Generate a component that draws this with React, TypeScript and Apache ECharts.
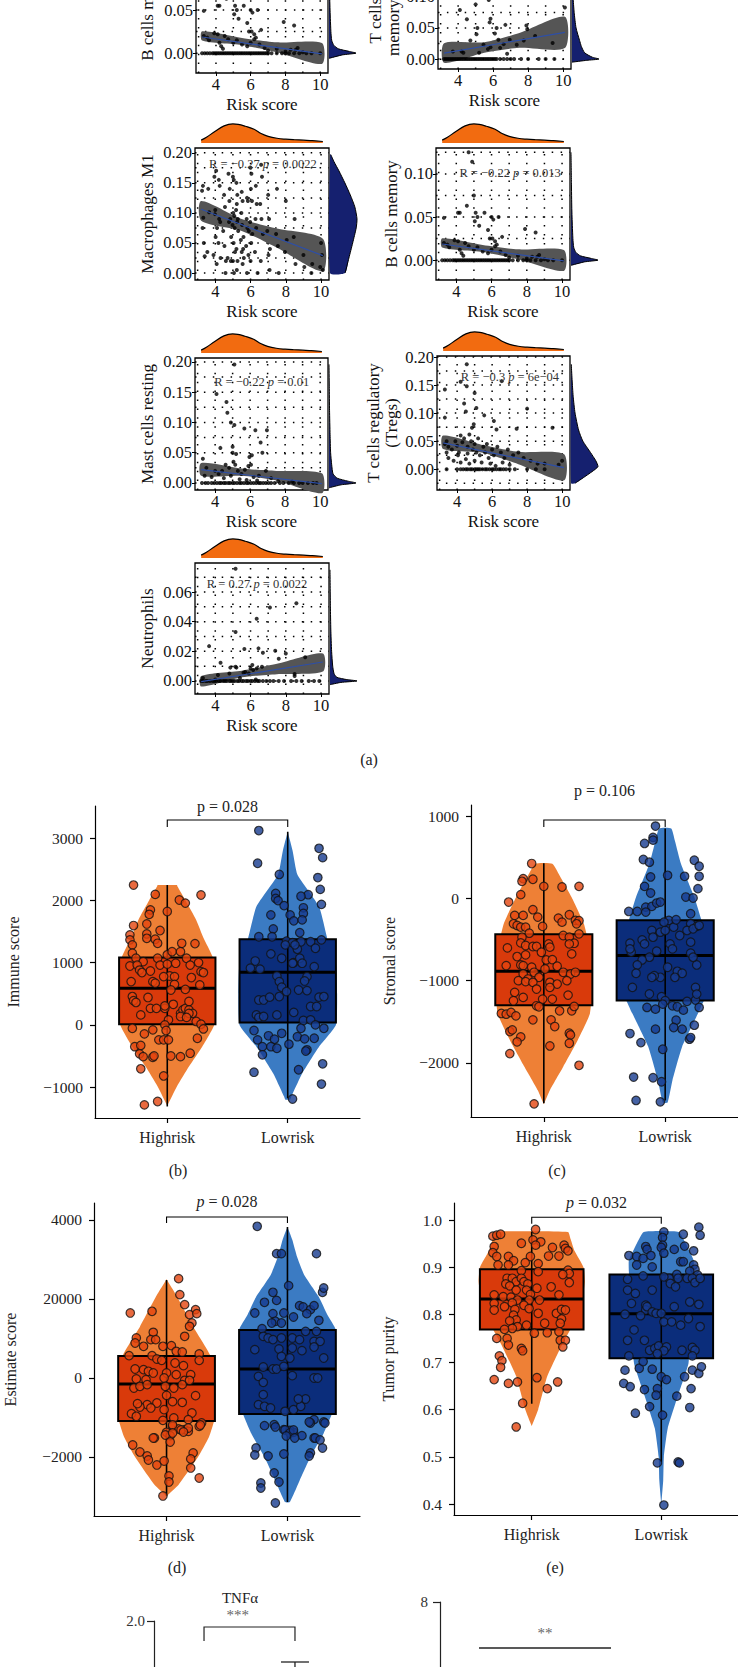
import React, { useEffect, useRef } from "react";
import * as echarts from "echarts";

const FONT = "'Liberation Serif', 'Times New Roman', serif";

// ---------------- (a) common marginal density of risk score ----------------
const riskDensX = [3.2, 3.5, 4.0, 4.5, 5.0, 5.3, 5.7, 6.2, 6.6, 7.0, 7.5, 8.0, 8.5, 9.0, 9.5, 10.1];
const riskDensH = [0.15, 0.3, 0.62, 0.9, 1.0, 0.98, 0.88, 0.72, 0.5, 0.35, 0.25, 0.2, 0.17, 0.15, 0.12, 0.08];
const riskTicks = [4, 6, 8, 10];
const riskGridX = [3, 4, 5, 6, 7, 8, 9, 10];
const fitX = [3.2, 10.1];
const bandX = [3.2, 5.5, 7.5, 10.1];

// B cells memory
const bmemPoints = [
  [4.7, 0.125], [4.9, 0.114], [4.6, 0.063], [3.3, 0.049], [4.1, 0.055], [4.2, 0.055], [5.0, 0.075], [5.1, 0.055], [5.2, 0.05], [5.05, 0.045], [5.3, 0.04], [5.6, 0.055], [5.8, 0.035], [6.0, 0.05], [6.1, 0.047], [6.4, 0.05], [6.05, 0.025], [6.2, 0.022], [5.9, 0.025], [6.6, 0.027], [6.3, 0.018], [7.9, 0.036], [8.5, 0.032],
  [3.3, 0.02], [3.5, 0.018], [3.6, 0.015], [3.9, 0.023], [4.1, 0.022], [4.2, 0.012], [4.3, 0.008], [4.5, 0.02], [4.7, 0.016], [4.4, 0.005], [5.0, 0.012], [5.2, 0.015], [5.5, 0.01], [5.8, 0.008], [6.0, 0.012], [6.2, 0.016], [6.5, 0.01], [6.8, 0.006], [7.0, 0.003], [7.5, 0.005], [8.0, 0.002], [8.3, 0.004], [8.6, 0.004], [8.7, 0.006], [9.0, 0.001],
  [3.2, 0], [3.35, 0], [3.5, 0], [3.65, 0], [3.8, 0], [3.9, 0], [4.0, 0], [4.1, 0], [4.2, 0], [4.3, 0], [4.4, 0], [4.5, 0], [4.6, 0], [4.7, 0], [4.8, 0], [4.9, 0], [5.0, 0], [5.1, 0], [5.2, 0], [5.3, 0], [5.4, 0], [5.5, 0], [5.6, 0], [5.7, 0], [5.8, 0], [5.9, 0], [6.0, 0], [6.1, 0], [6.2, 0], [6.3, 0], [6.4, 0], [6.5, 0], [6.6, 0], [6.7, 0], [6.8, 0], [6.9, 0], [7.0, 0], [7.2, 0], [7.5, 0], [7.8, 0], [8.0, 0], [8.2, 0], [8.5, 0], [8.8, 0], [9.2, 0], [9.5, 0], [10.0, 0],
];
const bmemFitY = [0.0187, -0.0008];
const bmemBandLo = [0.0148, 0.0095, 0.001, -0.0125];
const bmemBandHi = [0.0253, 0.0175, 0.0125, 0.0117];
const bmemDensY = [-0.006, -0.002, 0, 0.002, 0.005, 0.009, 0.015, 0.025, 0.04, 0.06, 0.09, 0.125];
const bmemDensW = [0, 0.5, 1.0, 0.75, 0.35, 0.18, 0.1, 0.07, 0.05, 0.03, 0.015, 0.0];

// T cells CD4 memory resting
const tcd4Points = [
  [4.1, 0.079], [5.0, 0.088], [5.75, 0.095], [4.5, 0.064], [5.8, 0.059], [5.85, 0.065], [5.05, 0.04], [5.1, 0.05], [6.2, 0.05], [6.7, 0.055], [10.1, 0.083], [7.9, 0.054], [7.95, 0.048], [8.4, 0.037], [9.4, 0.026], [6.1, 0.041], [6.3, 0.031], [5.45, 0.023], [4.7, 0.03], [3.7, 0.012], [4.2, 0.012], [4.3, 0.01], [5.2, 0.01], [5.7, 0.016], [5.85, 0.019], [6.4, 0.018], [6.6, 0.024], [6.95, 0.031], [7.35, 0.023], [7.75, 0.03], [6.8, 0.0085], [4.4, 0.12], [5.4, 0.15], [6.0, 0.11], [3.8, 0.18], [7.0, 0.13],
  [3.2, 0], [3.3, 0], [3.4, 0], [3.5, 0], [3.6, 0], [3.7, 0], [3.8, 0], [3.9, 0], [4.0, 0], [4.1, 0], [4.2, 0], [4.3, 0], [4.4, 0], [4.5, 0], [4.6, 0], [4.7, 0], [4.8, 0], [4.9, 0], [5.0, 0], [5.1, 0], [5.2, 0], [5.3, 0], [5.4, 0], [5.5, 0], [5.6, 0], [5.7, 0], [5.8, 0], [5.9, 0], [6.0, 0], [6.1, 0], [6.2, 0], [6.4, 0], [6.6, 0], [6.8, 0], [7.0, 0], [7.2, 0], [7.6, 0], [8.0, 0], [8.6, 0], [9.0, 0], [9.5, 0],
];
const tcd4FitY = [0.0096, 0.043];
const tcd4BandLo = [-0.006, 0.01, 0.018, 0.0176];
const tcd4BandHi = [0.0255, 0.027, 0.042, 0.068];
const tcd4DensY = [-0.005, -0.002, 0, 0.003, 0.01, 0.02, 0.03, 0.05, 0.075, 0.1, 0.15];
const tcd4DensW = [0, 0.55, 1.0, 0.75, 0.47, 0.35, 0.28, 0.15, 0.08, 0.04, 0.01];

// Macrophages M1
const m1Points = [
  [3.25, 0.137], [3.3, 0.145], [3.28, 0.075], [3.35, 0.05], [3.4, 0.028], [3.32, 0.092], [3.6, 0.14], [3.65, 0.101], [3.55, 0.035], [3.95, 0.16], [4.05, 0.17], [4.0, 0.105], [3.98, 0.098], [4.1, 0.075], [4.02, 0.06], [3.9, 0.03], [4.08, 0.015],
  [4.2, 0.155], [4.25, 0.145], [4.22, 0.09], [4.28, 0.085], [4.18, 0.05], [4.3, 0.025], [4.5, 0.13], [4.55, 0.11], [4.45, 0.07], [4.52, 0.045], [4.6, 0.02], [4.58, 0.0], [4.75, 0.165], [4.82, 0.14], [4.8, 0.12], [4.85, 0.09], [4.78, 0.085], [4.9, 0.06], [4.7, 0.025], [4.88, 0.02],
  [5.0, 0.16], [5.05, 0.155], [5.02, 0.1], [5.08, 0.095], [4.98, 0.08], [5.1, 0.075], [5.04, 0.05], [5.12, 0.035], [5.0, 0.02], [5.06, 0.0], [5.2, 0.15], [5.25, 0.13], [5.22, 0.115], [5.18, 0.105], [5.28, 0.09], [5.24, 0.085], [5.3, 0.07], [5.2, 0.04], [5.26, 0.02], [5.22, 0.005],
  [5.5, 0.135], [5.55, 0.12], [5.48, 0.1], [5.52, 0.08], [5.6, 0.06], [5.45, 0.055], [5.58, 0.04], [5.5, 0.035], [5.62, 0.025], [5.55, 0.015], [5.8, 0.125], [5.85, 0.12], [5.78, 0.09], [5.82, 0.075], [5.9, 0.07], [5.75, 0.045], [5.88, 0.03], [5.8, 0.0],
  [6.0, 0.175], [6.05, 0.165], [6.02, 0.14], [6.08, 0.12], [5.98, 0.085], [6.1, 0.065], [6.04, 0.05], [6.0, 0.02], [6.3, 0.145], [6.35, 0.115], [6.28, 0.09], [6.32, 0.075], [6.25, 0.035], [6.4, 0.0], [6.6, 0.18], [6.65, 0.16], [6.55, 0.115], [6.62, 0.09], [6.7, 0.065], [6.58, 0.02],
  [7.0, 0.13], [7.05, 0.09], [6.95, 0.07], [7.1, 0.04], [7.02, 0.03], [7.08, 0.005], [7.5, 0.14], [7.45, 0.065], [7.55, 0.045], [7.6, 0.0], [8.0, 0.12], [8.05, 0.055], [7.95, 0.035], [8.5, 0.09], [8.45, 0.06], [8.55, 0.015], [9.0, 0.03], [9.05, 0.01], [9.5, 0.015], [9.45, 0.0], [10.0, 0.05], [10.05, 0.03], [9.95, 0.01], [10.1, 0.005],
];
const m1FitY = [0.106, 0.029];
const m1BandLo = [0.087, 0.07, 0.042, 0.003];
const m1BandHi = [0.12, 0.09, 0.074, 0.057];
const m1DensY = [0, 0.025, 0.05, 0.075, 0.09, 0.11, 0.13, 0.15, 0.17, 0.185, 0.197];
const m1DensW = [0.56, 0.7, 0.84, 0.97, 1.0, 0.92, 0.75, 0.55, 0.33, 0.15, 0.03];

// Mast cells resting
const mastPoints = [
  [5.1, 0.196], [4.08, 0.147], [4.65, 0.134], [4.7, 0.116], [4.9, 0.1], [5.1, 0.096], [5.67, 0.09], [6.3, 0.087], [6.96, 0.087], [6.6, 0.067], [4.3, 0.058], [5.0, 0.06], [5.2, 0.048], [5.96, 0.043], [6.1, 0.046], [5.0, 0.05], [3.3, 0.04],
  [3.5, 0.025], [4.0, 0.02], [4.2, 0.015], [4.4, 0.02], [4.6, 0.03], [4.8, 0.025], [5.05, 0.035], [5.15, 0.03], [5.3, 0.02], [5.5, 0.015], [5.7, 0.022], [5.9, 0.028], [6.05, 0.03], [6.2, 0.01], [6.5, 0.012], [6.7, 0.05], [6.9, 0.02], [7.2, 0.008], [3.4, 0.012], [3.8, 0.01], [4.5, 0.008], [4.9, 0.012], [5.4, 0.006], [5.8, 0.005], [6.4, 0.004], [7.6, 0.003], [8.4, 0.002],
  [3.25, 0], [3.45, 0], [3.6, 0], [3.8, 0], [3.95, 0], [4.1, 0], [4.25, 0], [4.35, 0], [4.5, 0], [4.6, 0], [4.75, 0], [4.85, 0], [5.0, 0], [5.1, 0], [5.25, 0], [5.4, 0], [5.5, 0], [5.65, 0], [5.8, 0], [5.9, 0], [6.05, 0], [6.2, 0], [6.35, 0], [6.5, 0], [6.6, 0], [6.75, 0], [6.9, 0], [7.05, 0], [7.2, 0], [7.4, 0], [7.7, 0], [7.9, 0], [8.2, 0], [8.5, 0], [8.8, 0], [9.0, 0], [9.3, 0], [9.6, 0], [9.8, 0],
];
const mastFitY = [0.022, -0.001];
const mastBandLo = [0.012, 0.012, 0.004, -0.017];
const mastBandHi = [0.033, 0.024, 0.02, 0.016];
const mastDensY = [-0.008, -0.003, 0, 0.003, 0.008, 0.015, 0.03, 0.05, 0.08, 0.12, 0.16, 0.196];
const mastDensW = [0, 0.45, 1.0, 0.7, 0.3, 0.15, 0.1, 0.06, 0.04, 0.02, 0.01, 0.0];

// T cells regulatory (Tregs)
const tregPoints = [
  [3.3, 0.142], [3.3, 0.092], [4.55, 0.187], [4.2, 0.156], [4.55, 0.148], [4.4, 0.117], [4.5, 0.103], [5.0, 0.136], [5.1, 0.109], [5.55, 0.096], [6.1, 0.086], [6.25, 0.071], [6.55, 0.157], [7.4, 0.072], [8.0, 0.108], [9.45, 0.074], [4.95, 0.08], [4.85, 0.074], [4.7, 0.062], [4.2, 0.06],
  [3.3, 0.045], [3.4, 0.05], [3.5, 0.04], [3.7, 0.035], [3.9, 0.05], [4.0, 0.042], [4.1, 0.03], [4.3, 0.048], [4.4, 0.055], [4.6, 0.04], [4.8, 0.05], [4.9, 0.035], [5.0, 0.045], [5.1, 0.03], [5.2, 0.055], [5.3, 0.025], [5.5, 0.04], [5.6, 0.03], [5.7, 0.045], [5.8, 0.02], [6.0, 0.035], [6.1, 0.025], [6.3, 0.04], [6.5, 0.03], [6.7, 0.02], [6.9, 0.035], [7.2, 0.025], [7.5, 0.03], [7.8, 0.02], [8.2, 0.015], [8.6, 0.01], [9.0, 0.01], [9.8, 0.008], [10.0, 0.015],
  [3.5, 0.02], [3.8, 0.015], [4.2, 0.012], [4.5, 0.018], [4.7, 0.01], [5.0, 0.015], [5.4, 0.012], [5.9, 0.01], [6.2, 0.006], [6.6, 0.012], [7.0, 0.008], [3.4, 0.03], [4.05, 0.025], [4.6, 0.028],
  [3.4, 0], [4.0, 0], [4.2, 0], [4.35, 0], [4.5, 0], [4.6, 0], [4.75, 0], [4.85, 0], [5.0, 0], [5.1, 0], [5.2, 0], [5.3, 0], [5.45, 0], [5.6, 0], [5.7, 0], [5.85, 0], [6.0, 0], [6.1, 0], [6.25, 0], [6.4, 0], [6.5, 0], [6.65, 0], [6.8, 0], [7.0, 0], [7.3, 0], [8.0, 0], [8.5, 0], [9.0, 0],
];
const tregFitY = [0.047, 0.003];
const tregBandLo = [0.036, 0.029, 0.009, -0.02];
const tregBandHi = [0.06, 0.043, 0.031, 0.027];
const tregDensY = [-0.025, -0.012, 0, 0.005, 0.015, 0.03, 0.05, 0.07, 0.1, 0.13, 0.16, 0.187];
const tregDensW = [0.15, 0.55, 0.9, 1.0, 0.92, 0.72, 0.44, 0.28, 0.15, 0.08, 0.04, 0.01];

// Neutrophils
const neutPoints = [
  [5.15, 0.0757], [3.65, 0.0235], [5.15, 0.033], [6.35, 0.042], [7.1, 0.0496], [8.6, 0.0525], [5.65, 0.0215], [6.45, 0.022], [6.7, 0.019], [7.4, 0.0204], [7.6, 0.015], [8.0, 0.0186], [9.1, 0.016], [8.5, 0.0047], [8.5, 0.0034], [4.3, 0.0123], [4.85, 0.009], [5.15, 0.0096], [5.2, 0.009], [6.0, 0.0085], [6.1, 0.0107], [6.15, 0.0074], [6.35, 0.0085], [6.65, 0.0096], [4.15, 0.004], [4.8, 0.005], [5.6, 0.0056], [5.7, 0.006], [5.9, 0.005], [3.3, 0.002], [4.0, 0.001], [5.4, 0.002], [6.3, 0.001],
  [3.2, 0], [3.3, 0], [3.45, 0], [3.55, 0], [3.7, 0], [3.85, 0], [3.95, 0], [4.05, 0], [4.2, 0], [4.3, 0], [4.45, 0], [4.55, 0], [4.65, 0], [4.8, 0], [4.9, 0], [5.0, 0], [5.1, 0], [5.25, 0], [5.35, 0], [5.5, 0], [5.6, 0], [5.75, 0], [5.85, 0], [6.0, 0], [6.1, 0], [6.25, 0], [6.4, 0], [6.5, 0], [6.7, 0], [6.9, 0], [7.1, 0], [7.3, 0], [7.6, 0], [7.9, 0], [8.3, 0], [8.6, 0], [8.9, 0], [9.3, 0], [9.6, 0], [9.9, 0],
];
const neutFitY = [-0.0004, 0.0128];
const neutBandLo = [-0.0038, 0.0025, 0.0046, 0.0063];
const neutBandHi = [0.0034, 0.0069, 0.0116, 0.0186];
const neutDensY = [-0.0025, -0.001, 0, 0.001, 0.0025, 0.005, 0.01, 0.02, 0.035, 0.05, 0.075];
const neutDensW = [0, 0.4, 1.0, 0.6, 0.25, 0.15, 0.1, 0.06, 0.03, 0.015, 0];

const scatterPanels = [
  { key: "p0", label: "B cells memory", yMin: -0.023, yMax: 0.13, yTicks: [0, 0.05, 0.1], yGrid: [0, 0.025, 0.05, 0.075, 0.1, 0.125], points: bmemPoints, fitY: bmemFitY, bandLo: bmemBandLo, bandHi: bmemBandHi, densY: bmemDensY, densW: bmemDensW, stat: null as any },
  { key: "p1", label: "T cells CD4\nmemory resting", yMin: -0.016, yMax: 0.198, yTicks: [0, 0.05, 0.1, 0.15], yGrid: [0, 0.025, 0.05, 0.075, 0.1, 0.125, 0.15, 0.175], points: tcd4Points, fitY: tcd4FitY, bandLo: tcd4BandLo, bandHi: tcd4BandHi, densY: tcd4DensY, densW: tcd4DensW, stat: null as any },
  { key: "p2", label: "Macrophages M1", yMin: -0.0116, yMax: 0.208, yTicks: [0, 0.05, 0.1, 0.15, 0.2], yGrid: [0, 0.025, 0.05, 0.075, 0.1, 0.125, 0.15, 0.175, 0.2], points: m1Points, fitY: m1FitY, bandLo: m1BandLo, bandHi: m1BandHi, densY: m1DensY, densW: m1DensW, stat: { r: "−0.27", p: "0.0022", pos: [6.7, 0.182] } },
  { key: "p3", label: "B cells memory", yMin: -0.023, yMax: 0.13, yTicks: [0, 0.05, 0.1], yGrid: [0, 0.025, 0.05, 0.075, 0.1, 0.125], points: bmemPoints, fitY: bmemFitY, bandLo: bmemBandLo, bandHi: bmemBandHi, densY: bmemDensY, densW: bmemDensW, stat: { r: "−0.22", p: "0.013", pos: [7.05, 0.101] } },
  { key: "p4", label: "Mast cells resting", yMin: -0.0116, yMax: 0.2066, yTicks: [0, 0.05, 0.1, 0.15, 0.2], yGrid: [0, 0.025, 0.05, 0.075, 0.1, 0.125, 0.15, 0.175, 0.2], points: mastPoints, fitY: mastFitY, bandLo: mastBandLo, bandHi: mastBandHi, densY: mastDensY, densW: mastDensW, stat: { r: "−0.22", p: "0.01", pos: [6.66, 0.167] } },
  { key: "p5", label: "T cells regulatory\n(Tregs)", yMin: -0.037, yMax: 0.2018, yTicks: [0, 0.05, 0.1, 0.15, 0.2], yGrid: [-0.025, 0, 0.025, 0.05, 0.075, 0.1, 0.125, 0.15, 0.175, 0.2], points: tregPoints, fitY: tregFitY, bandLo: tregBandLo, bandHi: tregBandHi, densY: tregDensY, densW: tregDensW, stat: { r: "−0.3", p: "6e−04", pos: [7.02, 0.165] } },
  { key: "p6", label: "Neutrophils", yMin: -0.0088, yMax: 0.0796, yTicks: [0, 0.02, 0.04, 0.06], yGrid: [0, 0.01, 0.02, 0.03, 0.04, 0.05, 0.06, 0.07], points: neutPoints, fitY: neutFitY, bandLo: neutBandLo, bandHi: neutBandHi, densY: neutDensY, densW: neutDensW, stat: { r: "0.27", p: "0.0022", pos: [6.37, 0.0654] } },
];

const scatterLayout: Record<string, any> = {
  p0: { left: 196, top: -59, width: 132, height: 132, nameGap: 40, topDens: false },
  p1: { left: 438, top: -64, width: 133, height: 133, nameGap: 33, topDens: false },
  p2: { left: 195, top: 148, width: 134, height: 132, nameGap: 39, topDens: true },
  p3: { left: 436, top: 148, width: 134, height: 132, nameGap: 35, topDens: true },
  p4: { left: 195, top: 358, width: 133, height: 132, nameGap: 39, topDens: true },
  p5: { left: 437, top: 356, width: 133, height: 134, nameGap: 37, topDens: true },
  p6: { left: 195, top: 563, width: 134, height: 131, nameGap: 39, topDens: true },
};

// ---------------- (b)-(e) violin + box plots ----------------
const groupNames = ["Highrisk", "Lowrisk"];

const immuneHighPts = [
  [-0.28, 2245], [-0.1, 2095], [0.1, 2005], [0.15, 1955], [0.28, 2085], [-0.14, 1845], [-0.15, 1775], [0, 1820], [-0.28, 1595], [-0.17, 1620], [-0.06, 1515], [-0.31, 1445], [-0.31, 1365], [-0.29, 1285], [-0.17, 1460], [-0.17, 1390], [-0.1, 1375], [-0.08, 1310], [0.12, 1310], [0.23, 1305],
  [-0.29, 1150], [-0.26, 1070], [-0.2, 1015], [-0.08, 1070], [0, 1125], [0.04, 1175], [0.11, 1175], [0.16, 1070], [-0.31, 945], [-0.25, 960], [-0.23, 880], [-0.21, 840], [-0.14, 865], [-0.06, 960], [0, 975], [0.07, 990], [0.19, 960], [0.26, 1000], [0.28, 855], [0.3, 840],
  [0.2, 760], [0.02, 785], [0.06, 775], [-0.03, 775], [-0.3, 695], [-0.12, 695], [-0.1, 670], [0.06, 650], [0.03, 560], [0.27, 640], [0.15, 570], [-0.29, 455], [-0.28, 390], [-0.16, 440], [-0.26, 360], [-0.14, 265], [-0.09, 265], [-0.02, 265], [-0.02, 305], [0.05, 330],
  [0.11, 185], [0.13, 240], [0.15, 265], [0.18, 375], [0.18, 240], [0.21, 185], [0.18, 185], [-0.22, 160], [0.11, 135], [0.16, 120], [0.01, 80], [0.24, 55], [0.28, 10], [-0.02, 0], [-0.29, -55], [0.3, -65], [-0.12, -80], [-0.19, -145], [-0.01, -90], [0.25, -215],
  [-0.07, -240], [-0.03, -240], [0.01, -240], [-0.27, -350], [-0.22, -330], [-0.23, -465], [-0.2, -510], [-0.12, -520], [-0.11, -500], [0.03, -500], [0.11, -510], [0.19, -455], [-0.22, -705], [-0.03, -820], [-0.19, -1285], [-0.08, -1230],
];
const immuneLowPts = [
  [-0.24, 3120], [-0.25, 2595], [0.26, 2835], [0.29, 2685], [-0.07, 2415], [0.25, 2365], [0.27, 2175], [0.28, 1935], [-0.1, 2110], [-0.1, 2030], [-0.08, 1995], [-0.03, 1915], [0.17, 2090], [0.11, 2065], [0.13, 1880], [-0.14, 1765], [0.02, 1765], [0.05, 1670], [0.13, 1790], [0.12, 1685],
  [-0.12, 1540], [0.1, 1480], [-0.24, 1415], [-0.13, 1415], [-0.01, 1345], [0.04, 1320], [0.11, 1335], [0.19, 1335], [0.28, 1365], [0.08, 1215], [0.23, 1230], [-0.14, 1140], [-0.02, 1285], [0.06, 1285], [-0.27, 1025], [-0.05, 1070], [0.05, 1000], [0.1, 1070], [0.12, 990], [-0.31, 910],
  [-0.23, 895], [0.04, 990], [0.22, 935], [-0.09, 785], [-0.07, 695], [-0.05, 605], [-0.01, 535], [0.16, 775], [0.14, 705], [0.09, 560], [0.16, 550], [0.26, 445], [0.3, 455], [0.19, 295], [0.24, 295], [-0.24, 400], [-0.2, 400], [-0.15, 445], [-0.07, 455], [0.05, 200],
  [-0.09, 160], [-0.26, 160], [-0.24, 120], [-0.2, 135], [0.13, 70], [0.19, 80], [0.23, 0], [-0.28, -90], [-0.25, -240], [-0.16, -175], [-0.11, -230], [-0.05, -135], [0.01, -310], [0.11, -55], [0.08, -190], [0.14, -225], [0.3, -55], [-0.21, -350], [-0.14, -350], [-0.09, -375],
  [0.16, -400], [0.22, -215], [-0.21, -480], [0.15, -420], [0.09, -720], [-0.28, -760], [0.29, -625], [0.28, -950], [0.04, -1190],
];
const immuneHighViolin = [[-1300, 0], [-990, 0.08], [-670, 0.18], [-350, 0.29], [0, 0.39], [400, 0.4], [800, 0.4], [1100, 0.375], [1400, 0.3], [1685, 0.24], [2000, 0.15], [2220, 0.085], [2245, 0.08]];
const immuneLowViolin = [[-1200, 0.02], [-1150, 0.03], [-780, 0.12], [-350, 0.26], [0, 0.4], [500, 0.41], [1000, 0.4], [1380, 0.33], [1900, 0.26], [2415, 0.08], [2800, 0.04], [3100, 0.0]];
const immuneHighBox = [-1310, 11, 588, 1080, 2245];
const immuneLowBox = [-1176, 37, 845, 1374, 3100];

const stromalHighPts = [
  [-0.1, 423], [-0.17, 240], [-0.09, 232], [-0.18, 207], [0, 146], [0.15, 138], [0.29, 146], [-0.29, -45], [-0.19, 45], [-0.09, -138], [-0.24, -207], [-0.17, -207], [-0.05, -228], [0.12, -240], [0.15, -289], [0.21, -199], [0.26, -268], [0.29, -272], [0.27, -309], [-0.25, -309],
  [-0.22, -329], [-0.19, -350], [-0.15, -350], [-0.01, -341], [-0.12, -423], [0.29, -431], [-0.18, -472], [0.16, -451], [0.21, -472], [0.25, -545], [0.21, -553], [-0.19, -541], [-0.15, -573], [-0.09, -585], [-0.06, -585], [0.04, -553], [0.05, -593], [-0.02, -655], [-0.3, -602], [0.23, -675],
  [-0.22, -707], [-0.15, -687], [0.02, -748], [0.07, -744], [-0.31, -817], [-0.19, -809], [-0.17, -817], [-0.1, -837], [0.01, -858], [0.11, -825], [0.16, -898], [0.22, -919], [0.26, -898], [-0.08, -898], [-0.17, -919], [-0.04, -959], [-0.13, -980], [-0.21, -1000], [-0.15, -1012], [-0.09, -1020],
  [0.05, -1020], [0.11, -1041], [0.19, -1000], [-0.06, -1102], [0.05, -1081], [-0.24, -1142], [-0.17, -1203], [0.2, -1175], [-0.25, -1244], [-0.01, -1224], [0.07, -1224], [-0.06, -1305], [-0.04, -1317], [0.13, -1366], [0.23, -1366], [0.25, -1313], [-0.35, -1398], [-0.31, -1407], [-0.27, -1386], [-0.23, -1427],
  [-0.09, -1476], [0.06, -1476], [0.09, -1557], [-0.28, -1618], [-0.26, -1598], [-0.19, -1683], [-0.22, -1744], [0.21, -1638], [0.22, -1659], [0.21, -1760], [0.05, -1793], [-0.28, -1886], [0.29, -2028], [-0.08, -2496],
];
const stromalLowPts = [
  [-0.08, 878], [-0.17, 667], [-0.1, 740], [-0.1, 707], [-0.18, 472], [-0.13, 439], [0.24, 463], [0.28, 390], [0.02, 280], [0.16, 268], [0.28, 268], [-0.12, 260], [-0.17, 146], [-0.12, 65], [0.27, 118], [0.17, 16], [0.23, 4], [-0.3, -159], [-0.23, -159], [-0.16, -106],
  [-0.11, -98], [-0.07, -57], [-0.04, -45], [0.21, -187], [0.21, -309], [0.26, -341], [-0.29, -545], [-0.28, -654], [-0.19, -504], [-0.17, -553], [-0.11, -390], [-0.1, -472], [-0.13, -715], [-0.07, -642], [-0.04, -411], [0, -390], [0.03, -268], [-0.01, -289], [0.07, -350], [0.09, -260],
  [0.12, -451], [0.04, -553], [0.06, -614], [0.18, -390], [0.23, -370], [0.28, -329], [0.21, -532], [0.21, -667], [0.26, -809], [0.23, -715], [0.1, -886], [0.14, -910], [0.08, -959], [0.02, -837], [-0.04, -959], [-0.09, -939], [-0.11, -959], [-0.19, -748], [-0.23, -809], [-0.24, -910],
  [-0.27, -1081], [-0.13, -1162], [-0.03, -1195], [0, -1244], [-0.02, -1285], [0.06, -1305], [0.1, -1317], [0.15, -1358], [0.18, -1252], [0.25, -1236], [0.25, -1081], [0.26, -1163], [0.28, -1325], [-0.15, -1325], [-0.08, -1346], [0.09, -1480], [0.07, -1569], [0.14, -1589], [-0.08, -1589], [0.24, -1541],
  [0.2, -1711], [0.21, -1691], [-0.29, -1642], [-0.2, -1752], [-0.02, -1833], [-0.03, -2228], [-0.26, -2171], [-0.1, -2179], [-0.24, -2455], [-0.04, -2472], [-0.29, -614], [-0.16, -167],
];
const stromalHighViolin = [[-2500, 0.0], [-2330, 0.05], [-2045, 0.16], [-1720, 0.28], [-1400, 0.38], [-1000, 0.4], [-700, 0.39], [-310, 0.33], [10, 0.23], [250, 0.14], [420, 0.07]];
const stromalLowViolin = [[-2480, 0.02], [-2210, 0.06], [-1800, 0.14], [-1400, 0.27], [-1100, 0.36], [-800, 0.4], [-500, 0.37], [-267, 0.3], [15, 0.24], [420, 0.13], [700, 0.08], [850, 0.05]];
const stromalHighBox = [-2490, -1300, -887, -437, 425];
const stromalLowBox = [-2455, -1240, -693, -267, 850];

const estimateHighPts = [
  [0.1, 2515], [0.11, 2110], [0.15, 1857], [-0.3, 1646], [-0.12, 1688], [0.24, 1730], [0.19, 1603], [0.25, 1629], [0.21, 1392], [0.19, 1308], [0.15, 1055], [-0.25, 1013], [-0.26, 886], [-0.11, 1156], [-0.13, 970], [-0.09, 970], [-0.19, 802], [-0.03, 802], [0.04, 819], [0.08, 675],
  [0.13, 658], [0.27, 608], [0.27, 447], [-0.31, 565], [-0.12, 565], [-0.08, 481], [-0.04, 447], [0.07, 380], [0.14, 312], [0.2, 84], [-0.26, 228], [-0.19, 211], [-0.15, 169], [-0.11, 127], [0, 127], [0.08, 84], [-0.25, -25], [-0.17, -42], [-0.02, 0], [0.15, -59],
  [-0.27, -253], [-0.22, -211], [-0.16, -169], [-0.01, -211], [0.06, -253], [0.13, -169], [0.19, -59], [0.24, -447], [0, -439], [0.05, -599], [0.13, -616], [-0.08, -633], [-0.16, -675], [-0.22, -734], [-0.24, -650], [-0.13, -759], [-0.02, -802], [-0.29, -903], [-0.25, -970], [0.21, -886],
  [0.18, -1055], [-0.03, -1072], [0.06, -1013], [0.29, -1139], [0.27, -1224], [0.05, -1224], [0.1, -1291], [0.15, -1308], [0.18, -1350], [0, -1375], [0.03, -1460], [-0.1, -1519], [-0.28, -1696], [-0.22, -1873], [-0.16, -1975], [-0.15, -2076], [-0.08, -2202], [-0.11, -1519], [-0.01, -1443], [0.05, -1190],
  [0.12, -1316], [0.18, -1266], [0.28, -1190], [0.22, -1899], [0.2, -2050], [0.2, -2278], [-0.02, -2101], [0.02, -2481], [0.02, -2633], [0.27, -2532], [-0.03, -2987], [0.03, -1620], [0.05, -1392], [0.14, -1367],
];
const estimateLowPts = [
  [-0.25, 3840], [-0.09, 3148], [-0.05, 3148], [0.24, 3148], [0.01, 2338], [-0.12, 2169], [-0.19, 1916], [-0.09, 1966], [0.29, 2169], [0.3, 2278], [-0.27, 1646], [-0.12, 1629], [-0.03, 1646], [0.05, 1544], [0.1, 1831], [0.13, 1797], [0.19, 1730], [0.22, 1831], [0.16, 1629], [-0.1, 1435],
  [-0.05, 1392], [-0.13, 1392], [0.26, 1460], [-0.21, 1249], [0.15, 1181], [0.24, 1181], [-0.2, 1055], [-0.16, 1013], [-0.12, 970], [-0.05, 1013], [0.04, 1013], [0.1, 970], [0.22, 928], [0.27, 928], [-0.27, 717], [-0.07, 734], [0.04, 759], [0.12, 692], [0.22, 785], [-0.05, 548],
  [0.02, 506], [0.3, 506], [-0.2, 278], [-0.12, 228], [-0.09, 228], [-0.03, 295], [0.04, 59], [0.22, 0], [0.25, 0], [-0.24, 42], [-0.2, -110], [-0.2, -422], [-0.24, -675], [-0.19, -717], [-0.14, -759], [-0.02, -844], [0.05, -802], [0.11, -717], [0.15, -532], [0.09, -532],
  [0.22, -1055], [0.19, -1139], [0.3, -1114], [-0.19, -1207], [-0.11, -1181], [-0.03, -1308], [0.05, -1375], [0.02, -1325], [0.12, -1460], [0.22, -1519], [-0.26, -1772], [-0.27, -1949], [-0.16, -1975], [-0.1, -1240], [-0.02, -1316], [0.02, -1392], [0.05, -1316], [-0.01, -1468], [0.06, -1519], [0.18, -1114],
  [0.31, -1139], [0.23, -1519], [0.27, -1570], [0.29, -1772], [0.19, -1899], [0.18, -1975], [-0.03, -1924], [-0.11, -2405], [-0.22, -2658], [-0.22, -2785], [-0.07, -2633], [-0.1, -3165],
];
const estimateHighViolin = [[-2990, 0.0], [-2700, 0.1], [-2000, 0.26], [-1500, 0.35], [-1000, 0.4], [0, 0.4], [585, 0.36], [1300, 0.22], [2100, 0.08], [2500, 0.0]];
const estimateLowViolin = [[-3139, 0.02], [-2600, 0.1], [-2000, 0.19], [-1400, 0.3], [-800, 0.38], [0, 0.4], [1215, 0.4], [1600, 0.33], [2050, 0.26], [2600, 0.14], [3063, 0.08], [3500, 0.04], [3823, 0.0]];
const estimateHighBox = [-2987, -1089, -152, 557, 2481];
const estimateLowBox = [-3139, -911, 228, 1215, 3823];
const estimateTickText: Record<string, string> = { "-2000": "−2000", "0": "0", "2000": "20000", "4000": "4000" };

const purityHighPts = [
  [0.03, 0.98], [-0.3, 0.966], [-0.27, 0.968], [-0.24, 0.97], [0.01, 0.958], [0.07, 0.954], [0.03, 0.947], [-0.08, 0.951], [-0.29, 0.944], [0.16, 0.942], [0.25, 0.947], [0.26, 0.94], [0.28, 0.935], [-0.3, 0.931], [-0.27, 0.923], [-0.18, 0.923], [-0.14, 0.914], [-0.01, 0.923], [0.05, 0.908], [0.13, 0.924],
  [0.21, 0.924], [-0.26, 0.905], [-0.05, 0.91], [-0.18, 0.905], [0.05, 0.891], [-0.08, 0.893], [0.28, 0.894], [0.29, 0.887], [0.24, 0.885], [-0.19, 0.877], [-0.15, 0.877], [-0.12, 0.87], [-0.08, 0.877], [-0.06, 0.87], [-0.03, 0.865], [0.29, 0.868], [-0.2, 0.865], [-0.17, 0.861], [-0.12, 0.852], [-0.04, 0.852],
  [0.04, 0.856], [0.15, 0.859], [-0.29, 0.842], [-0.22, 0.838], [-0.16, 0.837], [-0.11, 0.831], [-0.01, 0.843], [-0.02, 0.831], [0.06, 0.831], [0.21, 0.842], [-0.29, 0.824], [-0.29, 0.81], [-0.21, 0.817], [-0.15, 0.825], [-0.13, 0.811], [-0.06, 0.82], [-0.02, 0.813], [0.05, 0.803], [0.19, 0.803], [0.23, 0.811],
  [0.26, 0.81], [-0.14, 0.799], [-0.12, 0.789], [-0.17, 0.787], [-0.11, 0.775], [-0.15, 0.771], [-0.04, 0.778], [0.1, 0.782], [0.23, 0.791], [0.22, 0.782], [0.21, 0.764], [0.02, 0.761], [0.12, 0.762], [-0.21, 0.769], [-0.27, 0.75], [-0.19, 0.75], [-0.18, 0.736], [0.22, 0.746], [0.26, 0.746], [0.24, 0.732],
  [-0.25, 0.713], [-0.23, 0.703], [-0.24, 0.689], [-0.08, 0.729], [-0.07, 0.724], [-0.29, 0.663], [-0.18, 0.655], [-0.11, 0.658], [0.04, 0.667], [0.12, 0.644], [0.2, 0.658], [-0.07, 0.613], [-0.12, 0.563],
];
const purityLowPts = [
  [0.29, 0.985], [0.02, 0.975], [0.17, 0.97], [0.3, 0.968], [0.01, 0.963], [0.01, 0.947], [0.18, 0.945], [0, 0.942], [-0.12, 0.944], [-0.11, 0.938], [-0.25, 0.925], [-0.19, 0.923], [-0.14, 0.919], [-0.08, 0.925], [0.02, 0.93], [0.1, 0.938], [0.25, 0.935], [-0.19, 0.905], [-0.07, 0.901], [0.15, 0.912],
  [0.17, 0.912], [0.25, 0.905], [0.26, 0.896], [0.22, 0.892], [0.28, 0.884], [0.12, 0.885], [0.13, 0.877], [0.06, 0.877], [0.02, 0.88], [-0.14, 0.882], [-0.26, 0.875], [0.07, 0.866], [0.11, 0.859], [0.2, 0.877], [0.24, 0.877], [0.26, 0.868], [0.3, 0.877], [-0.26, 0.852], [-0.2, 0.845], [-0.07, 0.852],
  [-0.23, 0.824], [-0.12, 0.82], [-0.12, 0.81], [-0.11, 0.817], [-0.07, 0.806], [-0.04, 0.803], [0, 0.803], [0.1, 0.817], [0.22, 0.827], [0.29, 0.822], [-0.28, 0.801], [-0.16, 0.798], [0.21, 0.792], [0.02, 0.785], [0.08, 0.785], [0.15, 0.778], [0.3, 0.775], [-0.21, 0.768], [-0.26, 0.746], [-0.13, 0.746],
  [-0.09, 0.725], [-0.05, 0.729], [-0.02, 0.734], [0.04, 0.732], [0.02, 0.724], [-0.03, 0.718], [0.16, 0.725], [0.24, 0.731], [0.26, 0.725], [-0.25, 0.713], [0.24, 0.713], [-0.28, 0.683], [-0.17, 0.687], [-0.14, 0.701], [-0.07, 0.685], [0.24, 0.683], [0.29, 0.676], [0.31, 0.69], [0.18, 0.669], [0, 0.669],
  [0.04, 0.663], [-0.29, 0.655], [-0.24, 0.648], [-0.13, 0.642], [-0.03, 0.644], [-0.04, 0.63], [0.23, 0.644], [0.12, 0.628], [-0.09, 0.606], [-0.2, 0.592], [0.01, 0.588], [0.22, 0.604], [-0.03, 0.487], [0.13, 0.489], [0.14, 0.487], [0.02, 0.398],
];
const purityHighViolin = [[0.565, 0.0], [0.6, 0.05], [0.67, 0.12], [0.74, 0.24], [0.78, 0.32], [0.83, 0.39], [0.87, 0.41], [0.9, 0.4], [0.935, 0.33], [0.96, 0.3], [0.975, 0.28]];
const purityLowViolin = [[0.4, 0.0], [0.45, 0.015], [0.5, 0.02], [0.56, 0.05], [0.634, 0.135], [0.697, 0.21], [0.75, 0.22], [0.8, 0.22], [0.85, 0.24], [0.89, 0.25], [0.915, 0.25], [0.95, 0.19], [0.975, 0.135]];
const purityHighBox = [0.612, 0.769, 0.833, 0.896, 0.975];
const purityLowBox = [0.489, 0.708, 0.802, 0.885, 0.975];

const minus = (v: number) => (v < 0 ? "−" + Math.abs(v) : String(v));

const boxPanels = [
  { key: "b", name: "Immune score", yMin: -1495, yMax: 3514, yTicks: [-1000, 0, 1000, 2000, 3000], fmt: minus, pText: "0.028", italic: false, bracket: [3177, 3290, 3498], high: { v: immuneHighViolin, b: immuneHighBox, p: immuneHighPts }, low: { v: immuneLowViolin, b: immuneLowBox, p: immuneLowPts } },
  { key: "c", name: "Stromal score", yMin: -2656, yMax: 1134, yTicks: [-2000, -1000, 0, 1000], fmt: minus, pText: "0.106", italic: false, bracket: [866, 951, 1316], high: { v: stromalHighViolin, b: stromalHighBox, p: stromalHighPts }, low: { v: stromalLowViolin, b: stromalLowBox, p: stromalLowPts } },
  { key: "d", name: "Estimate score", yMin: -3494, yMax: 4430, yTicks: [-2000, 0, 2000, 4000], fmt: (v: number) => estimateTickText[String(v)], pText: "0.028", italic: true, bracket: [3924, 4076, 4456], high: { v: estimateHighViolin, b: estimateHighBox, p: estimateHighPts }, low: { v: estimateLowViolin, b: estimateLowBox, p: estimateLowPts } },
  { key: "e", name: "Tumor purity", yMin: 0.377, yMax: 1.036, yTicks: [0.4, 0.5, 0.6, 0.7, 0.8, 0.9, 1.0], fmt: (v: number) => v.toFixed(1), pText: "0.032", italic: true, bracket: [0.992, 1.006, 1.038], high: { v: purityHighViolin, b: purityHighBox, p: purityHighPts }, low: { v: purityLowViolin, b: purityLowBox, p: purityLowPts } },
];
const boxLayout: Record<string, any> = {
  b: { left: 95, top: 806, width: 265, height: 312, nameGap: 74 },
  c: { left: 471, top: 805, width: 267, height: 312, nameGap: 74 },
  d: { left: 94, top: 1203, width: 266, height: 313, nameGap: 76 },
  e: { left: 454, top: 1203, width: 285, height: 312, nameGap: 58 },
};

const COLORS = {
  dens: "#F26B10",
  densBlue: "#15206F",
  band: "#555555",
  fit: "#2E4FA6",
  violinHigh: "#EE8036",
  boxHigh: "#D93A0B",
  ptHigh: "#E4450F",
  violinLow: "#3B7BC3",
  boxLow: "#0B2D7B",
  ptLow: "#163B8F",
};

// bottom partial panels (TNFα etc.)
const tnfBracket = [1.8, 1.94, 2.06];
const tnfErrHigh = 1.59;
const tnfErrLow = 1.2;
const rightBracket = [6.16, 6.76];

function buildOption() {
  const grid: any[] = [];
  const xAxis: any[] = [];
  const yAxis: any[] = [];
  const series: any[] = [];
  const graphic: any[] = [];

  const addCoord = (rect: any, xa: any, ya: any) => {
    const gi = grid.length;
    grid.push({ containLabel: false, outerBoundsMode: "none", ...rect });
    xAxis.push({ gridIndex: gi, ...xa });
    yAxis.push({ gridIndex: gi, ...ya });
    return gi;
  };
  const custom = (gi: number, z: number, render: (api: any) => any) => {
    series.push({
      type: "custom", xAxisIndex: gi, yAxisIndex: gi, data: [[0, 0]], z, clip: false, silent: true,
      renderItem: (_p: any, api: any) => render(api),
    });
  };
  const hidden = (min: number, max: number) => ({ type: "value", show: false, min, max, splitLine: { show: false } });

  // ---------- scatter panels ----------
  const xr = { min: 2.85, max: 10.45 };
  for (const p of scatterPanels) {
    const L = scatterLayout[p.key];
    const gi = addCoord(
      { left: L.left, top: L.top, width: L.width, height: L.height, show: true, borderColor: "#000", borderWidth: 1.3 },
      {
        type: "value", ...xr, name: "Risk score", nameLocation: "middle", nameGap: 23,
        nameTextStyle: { fontFamily: FONT, fontSize: 17, color: "#111" },
        axisLine: { show: false, onZero: false },
        axisTick: { show: true, customValues: riskTicks, length: 3, lineStyle: { color: "#000", width: 1 } },
        axisLabel: { customValues: riskTicks, fontFamily: FONT, fontSize: 16.5, color: "#111", margin: 3 },
        splitLine: { show: false },
      },
      {
        type: "value", min: p.yMin, max: p.yMax, name: p.label, nameLocation: "middle", nameGap: L.nameGap,
        nameTextStyle: { fontFamily: FONT, fontSize: 17, color: "#111", lineHeight: 18 },
        axisLine: { show: false, onZero: false },
        axisTick: { show: true, customValues: p.yTicks, length: 3, lineStyle: { color: "#000", width: 1 } },
        axisLabel: { customValues: p.yTicks, formatter: (v: number) => v.toFixed(2), fontFamily: FONT, fontSize: 16.5, color: "#111", margin: 3 },
        splitLine: { show: false },
      }
    );
    // dotted grid
    custom(gi, 1, (api) => {
      const a = api.coord([xr.min, p.yMin]);
      const b = api.coord([xr.max, p.yMax]);
      const children: any[] = [];
      for (const gy of p.yGrid) {
        const y = api.coord([xr.min, gy])[1];
        children.push({ type: "line", shape: { x1: a[0], y1: y, x2: b[0], y2: y }, style: { stroke: "#000", lineWidth: 1.5, lineDash: [1.5, 7.4] } });
      }
      for (const gx of riskGridX) {
        const x = api.coord([gx, p.yMin])[0];
        children.push({ type: "line", shape: { x1: x, y1: a[1], x2: x, y2: b[1] }, style: { stroke: "#000", lineWidth: 1.5, lineDash: [1.5, 7.4] } });
      }
      return { type: "group", children };
    });
    // confidence band
    custom(gi, 2, (api) => {
      const up = bandX.map((x, i) => api.coord([x, p.bandHi[i]]));
      const lo = bandX.map((x, i) => api.coord([x, p.bandLo[i]])).reverse();
      return { type: "polygon", shape: { points: up.concat(lo), smooth: 0.25 }, style: { fill: COLORS.band } };
    });
    series.push({
      type: "scatter", xAxisIndex: gi, yAxisIndex: gi, data: p.points, symbolSize: 4, silent: true,
      itemStyle: { color: "#000" }, z: 3,
    });
    series.push({
      type: "line", xAxisIndex: gi, yAxisIndex: gi, data: fitX.map((x, i) => [x, p.fitY[i]]), symbol: "none", silent: true,
      lineStyle: { color: COLORS.fit, width: 1.2 }, z: 4,
    });
    if (p.stat) {
      const st = p.stat;
      custom(gi, 5, (api) => {
        const c = api.coord(st.pos);
        return {
          type: "text", x: c[0], y: c[1],
          style: {
            text: `{n|R = ${st.r} }{i|p}{n| = ${st.p}}`, align: "center", verticalAlign: "middle",
            rich: {
              n: { fontFamily: FONT, fontSize: 12.5, fill: "#333" },
              i: { fontFamily: FONT, fontSize: 12.5, fontStyle: "italic", fill: "#333" },
            },
          },
        };
      });
    }
    // top marginal density
    if (L.topDens) {
      const gt = addCoord({ left: L.left, top: L.top - 25, width: L.width, height: 20 }, hidden(xr.min, xr.max), hidden(0, 1.05));
      series.push({
        type: "line", xAxisIndex: gt, yAxisIndex: gt, data: riskDensX.map((x, i) => [x, riskDensH[i]]), smooth: 0.4, symbol: "none", silent: true,
        lineStyle: { color: "#000", width: 1.2 }, areaStyle: { color: COLORS.dens, opacity: 1 }, z: 2,
      });
    }
    // right marginal density
    const gr = addCoord({ left: L.left + L.width + 1, top: L.top, width: 27, height: L.height }, hidden(0, 1), hidden(p.yMin, p.yMax));
    custom(gr, 2, (api) => {
      const curve = p.densY.map((y, i) => api.coord([p.densW[i], y]));
      const base0 = api.coord([0, p.densY[0]]);
      const base1 = api.coord([0, p.densY[p.densY.length - 1]]);
      return {
        type: "group",
        children: [
          { type: "polygon", shape: { points: [base0, ...curve, base1], smooth: 0.2 }, style: { fill: COLORS.densBlue } },
          { type: "polyline", shape: { points: curve, smooth: 0.2 }, style: { stroke: "#000", lineWidth: 1, fill: null } },
        ],
      };
    });
  }

  // ---------- box / violin panels ----------
  for (const b of boxPanels) {
    const L = boxLayout[b.key];
    const gi = addCoord(
      { left: L.left, top: L.top, width: L.width, height: L.height },
      {
        type: "value", min: 0.4, max: 2.6,
        axisLine: { show: true, onZero: false, lineStyle: { color: "#000", width: 1.2 } },
        axisTick: { show: true, customValues: [1, 2], length: 5, lineStyle: { color: "#000", width: 1.2 } },
        axisLabel: { customValues: [1, 2], formatter: (v: number) => groupNames[Math.round(v) - 1], fontFamily: FONT, fontSize: 16, color: "#222", margin: 11 },
        splitLine: { show: false },
      },
      {
        type: "value", min: b.yMin, max: b.yMax, name: b.name, nameLocation: "middle", nameGap: L.nameGap,
        nameTextStyle: { fontFamily: FONT, fontSize: 16, color: "#222" },
        axisLine: { show: true, onZero: false, lineStyle: { color: "#000", width: 1.2 } },
        axisTick: { show: true, customValues: b.yTicks, length: 5, lineStyle: { color: "#000", width: 1.2 } },
        axisLabel: { customValues: b.yTicks, formatter: b.fmt, fontFamily: FONT, fontSize: 15.5, color: "#222", margin: 12 },
        splitLine: { show: false },
      }
    );
    const groups = [
      { c: 1, g: b.high, violin: COLORS.violinHigh, box: COLORS.boxHigh, pt: COLORS.ptHigh },
      { c: 2, g: b.low, violin: COLORS.violinLow, box: COLORS.boxLow, pt: COLORS.ptLow },
    ];
    for (const G of groups) {
      custom(gi, 1, (api) => {
        const right = G.g.v.map(([v, w]: number[]) => api.coord([G.c + w, v]));
        const left = G.g.v.slice().reverse().map(([v, w]: number[]) => api.coord([G.c - w, v]));
        return { type: "polygon", shape: { points: right.concat(left), smooth: 0.15 }, style: { fill: G.violin } };
      });
      custom(gi, 2, (api) => {
        const [mn, q1, md, q3, mx] = G.g.b;
        const tl = api.coord([G.c - 0.4, q3]);
        const br = api.coord([G.c + 0.4, q1]);
        const top = api.coord([G.c, mx]);
        const bot = api.coord([G.c, mn]);
        const m1 = api.coord([G.c - 0.4, md]);
        const m2 = api.coord([G.c + 0.4, md]);
        return {
          type: "group",
          children: [
            { type: "rect", shape: { x: tl[0], y: tl[1], width: br[0] - tl[0], height: br[1] - tl[1] }, style: { fill: G.box, stroke: "#000", lineWidth: 2 } },
            { type: "line", shape: { x1: top[0], y1: top[1], x2: bot[0], y2: bot[1] }, style: { stroke: "#000", lineWidth: 1.6 } },
            { type: "line", shape: { x1: m1[0], y1: m1[1], x2: m2[0], y2: m2[1] }, style: { stroke: "#000", lineWidth: 3 } },
          ],
        };
      });
      series.push({
        type: "scatter", xAxisIndex: gi, yAxisIndex: gi, silent: true, z: 3,
        data: G.g.p.map(([o, v]: number[]) => [G.c + o, v]), symbolSize: 8.5,
        itemStyle: { color: G.pt, borderColor: "#111", borderWidth: 1.2 },
      });
    }
    custom(gi, 5, (api) => {
      const [tEnd, bar, ty] = b.bracket;
      const pts = [api.coord([1, tEnd]), api.coord([1, bar]), api.coord([2, bar]), api.coord([2, tEnd])];
      const t = api.coord([1.5, ty]);
      const txt = b.italic ? `{i|p}{n| = ${b.pText}}` : `{n|p = ${b.pText}}`;
      return {
        type: "group",
        children: [
          { type: "polyline", shape: { points: pts }, style: { stroke: "#000", lineWidth: 1.1, fill: null } },
          {
            type: "text", x: t[0], y: t[1],
            style: {
              text: txt, align: "center", verticalAlign: "middle",
              rich: {
                n: { fontFamily: FONT, fontSize: 16, fill: "#222" },
                i: { fontFamily: FONT, fontSize: 16, fontStyle: "italic", fill: "#222" },
              },
            },
          },
        ],
      };
    });
  }

  // ---------- bottom partial panels ----------
  const gT = addCoord(
    { left: 154, top: 1621, width: 191, height: 200 },
    { type: "value", show: false, min: 0.45, max: 2.55 },
    {
      type: "value", min: 0, max: 2, axisLine: { show: true, onZero: false, lineStyle: { color: "#222", width: 1.2 } },
      axisTick: { show: true, customValues: [2], length: 7, lineStyle: { color: "#222", width: 1.2 } },
      axisLabel: { customValues: [2], formatter: (v: number) => v.toFixed(1), fontFamily: FONT, fontSize: 15, color: "#333", margin: 9 },
      splitLine: { show: false },
    }
  );
  custom(gT, 3, (api) => {
    const [tEnd, bar, starY] = tnfBracket;
    const pts = [api.coord([1, tEnd]), api.coord([1, bar]), api.coord([2, bar]), api.coord([2, tEnd])];
    const s = api.coord([1.37, starY]);
    const e1 = api.coord([2, tnfErrHigh]);
    const e2 = api.coord([2, tnfErrLow]);
    const cl = api.coord([1.846, tnfErrHigh]);
    const cr = api.coord([2.154, tnfErrHigh]);
    return {
      type: "group",
      children: [
        { type: "polyline", shape: { points: pts }, style: { stroke: "#222", lineWidth: 1.2, fill: null } },
        { type: "text", x: s[0], y: s[1], style: { text: "***", fontFamily: FONT, fontSize: 15, fill: "#666", align: "center", verticalAlign: "middle" } },
        { type: "line", shape: { x1: cl[0], y1: cl[1], x2: cr[0], y2: cr[1] }, style: { stroke: "#222", lineWidth: 1.3 } },
        { type: "line", shape: { x1: e1[0], y1: e1[1], x2: e2[0], y2: e2[1] }, style: { stroke: "#222", lineWidth: 1.3 } },
      ],
    };
  });
  const gR = addCoord(
    { left: 440, top: 1602, width: 210, height: 200 },
    { type: "value", show: false, min: 0.41, max: 3.59 },
    {
      type: "value", min: 0, max: 8, axisLine: { show: true, onZero: false, lineStyle: { color: "#222", width: 1.2 } },
      axisTick: { show: true, customValues: [8], length: 7, lineStyle: { color: "#222", width: 1.2 } },
      axisLabel: { customValues: [8], fontFamily: FONT, fontSize: 15, color: "#333", margin: 12 },
      splitLine: { show: false },
    }
  );
  custom(gR, 3, (api) => {
    const a = api.coord([1, rightBracket[0]]);
    const b2 = api.coord([3, rightBracket[0]]);
    const s = api.coord([2, rightBracket[1]]);
    return {
      type: "group",
      children: [
        { type: "line", shape: { x1: a[0], y1: a[1], x2: b2[0], y2: b2[1] }, style: { stroke: "#222", lineWidth: 1.3 } },
        { type: "text", x: s[0], y: s[1], style: { text: "**", fontFamily: FONT, fontSize: 15, fill: "#666", align: "center", verticalAlign: "middle" } },
      ],
    };
  });

  const lab = (text: string, x: number, y: number, size = 16) => ({
    type: "text", x, y, silent: true,
    style: { text, fontFamily: FONT, fontSize: size, fill: "#222", align: "center", verticalAlign: "middle" },
  });
  graphic.push(lab("(a)", 369, 759));
  graphic.push(lab("(b)", 178, 1170));
  graphic.push(lab("(c)", 557, 1170));
  graphic.push(lab("(d)", 177, 1567));
  graphic.push(lab("(e)", 555, 1567));
  graphic.push(lab("TNFα", 240, 1598, 15));

  return { animation: false, backgroundColor: "#fff", grid, xAxis, yAxis, series, graphic };
}

export default function App() {
  const ref = useRef<HTMLDivElement>(null);
  useEffect(() => {
    if (!ref.current) return;
    const chart = echarts.init(ref.current, undefined, { renderer: "svg" });
    chart.setOption(buildOption() as any);
    return () => chart.dispose();
  }, []);
  return <div ref={ref} style={{ position: "absolute", left: 0, top: 0, width: 738, height: 1667, background: "#fff" }} />;
}
